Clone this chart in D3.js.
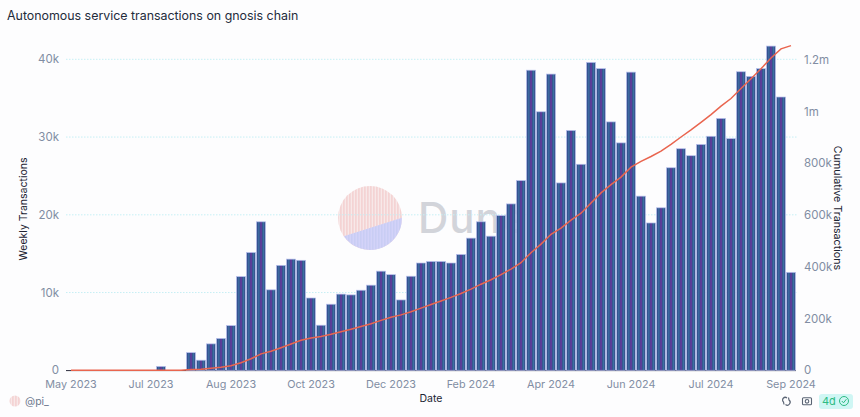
<!DOCTYPE html>
<html>
<head>
<meta charset="utf-8">
<script src="https://cdn.jsdelivr.net/npm/d3@7"></script>
<style>
html,body{margin:0;padding:0;background:#fdfdfe;}
svg{display:block;}
text{font-family:"Inter","Noto Sans",sans-serif;}
</style>
</head>
<body>
<svg id="chart" width="860" height="417"></svg>
<script>
// Weekly transaction counts, one entry per week starting 2023-05-08 (thousands)
const weeklyK = [0,0,0,0,0,0,0,0,0,0.5,0,0,2.27,1.3,3.4,4.1,5.75,12.05,15.15,19.1,10.35,13.5,14.3,14.15,9.3,5.8,8.5,9.8,9.7,10.3,10.95,12.75,12.3,9.05,12.1,13.8,14.0,14.0,13.8,14.9,17.0,19.1,17.25,19.9,21.4,24.4,38.6,33.25,38.1,24.1,30.85,26.5,39.6,38.8,31.95,29.25,38.35,22.4,18.95,20.9,26.05,28.5,27.6,29.05,30.1,32.4,29.8,38.4,37.8,38.8,41.7,35.15,12.6];
// Running total at the end of each week (thousands)
const cumulativeK = [0,0,0,0,0,0,0,0,0,0.5,0.5,0.5,2.8,4.1,7.5,11.6,17.3,29.4,44.5,63.6,74,87.5,101.8,115.9,125.2,131,139.5,149.3,159,169.3,180.3,193,205.3,214.4,226.5,240.3,254.3,268.3,282,297,314,333,350.3,370.2,391.6,416,454.6,487.9,526,550,581,607.5,647,686,718,747,785.4,807.8,826.8,847.7,873.7,902.2,929.8,958.9,989,1021.4,1051.2,1089.6,1127.4,1166.2,1207.9,1243,1255.6];
const firstWeek = "2023-05-08";
const weeklyTicks = [0,10,20,30,40];
const cumulativeTicks = [0,200,400,600,800,1000,1200];
const dateLabels = ["May 2023","Jul 2023","Aug 2023","Oct 2023","Dec 2023","Feb 2024","Apr 2024","Jun 2024","Jul 2024","Sep 2024"];
const titleText = "Autonomous service transactions on gnosis chain";

const svg = d3.select("#chart");
const left = 66, right = 796, base = 370.3;

const start = new Date(firstWeek+"T00:00:00");
const weeks = d3.timeMonday.range(start, d3.timeDay.offset(start, 7*weeklyK.length));
const x = d3.scaleBand().domain(weeks.map(d=>+d)).range([left,right]).paddingInner(0.1).paddingOuter(0.05);
const yL = d3.scaleLinear().domain([0,40]).range([base,59.3]);
const yR = d3.scaleLinear().domain([0,1200]).range([base,60]);
const kFmt = v => v===0 ? "0" : v+"k";
const mFmt = v => v===0 ? "0" : v>=1000 ? (v/1000)+"m" : v+"k";

// Stripe fills: the bar pattern repeats once per weekly band so each bar carries the same stripes
const defs = svg.append("defs");
function stripes(id, colors, originX){
  const p = defs.append("pattern").attr("id",id).attr("patternUnits","userSpaceOnUse")
    .attr("x",originX).attr("y",0).attr("width",colors.length).attr("height",4);
  colors.forEach((c,i)=>p.append("rect").attr("x",i).attr("y",0).attr("width",1).attr("height",4).attr("fill",c));
}
stripes("barFill",["#3a4f96","#34528f","#3c6a9f","#3a5c98","#5a3c98","#5c3f9a","#36588f","#3c6ea3","#38568f","#3a4f96"],66);
stripes("pinkFill",["#f5d3d3","#f3d9da","#f8e8e8"],0);
stripes("lavFill",["#cdcff7","#d3d3f8","#c9cdf3"],0);

// Logo and wordmark sit behind the grid and the bars
const logo = svg.append("g").attr("transform","translate(370,218)");
logo.append("circle").attr("r",32).attr("fill","url(#pinkFill)");
const chord = d3.path();
chord.arc(0,0,32,-0.01,2.53);
chord.closePath();
logo.append("path").attr("d",chord.toString()).attr("fill","url(#lavFill)");
svg.append("text").attr("x",418).attr("y",233).attr("font-size",42).attr("font-weight",500)
  .attr("fill","#d2d4da").attr("letter-spacing",1).text("Dune");

// Grid lines
svg.append("g").selectAll("line").data(weeklyTicks.slice(1)).join("line")
  .attr("x1",left).attr("x2",right+1.5).attr("y1",d=>yL(d)).attr("y2",d=>yL(d))
  .attr("stroke","#c6eff5").attr("stroke-width",1).attr("stroke-dasharray","1.5 1.5");
svg.append("line").attr("x1",left).attr("x2",right).attr("y1",base+0.3).attr("y2",base+0.3).attr("stroke","#2c2c3c").attr("stroke-width",1);

// Bars
svg.append("g").selectAll("rect").data(weeklyK.map((v,i)=>({v,w:weeks[i]})).filter(d=>d.v>0)).join("rect")
  .attr("x",d=>x(+d.w)).attr("width",x.bandwidth())
  .attr("y",d=>yL(d.v)).attr("height",d=>base-yL(d.v))
  .attr("fill","url(#barFill)").attr("stroke","#b9c0ee").attr("stroke-width",0.7);

// Cumulative line
const line = d3.line().x((d,i)=>x(+weeks[i])+x.bandwidth()/2).y(d=>yR(d));
svg.append("path").datum(cumulativeK).attr("d",line).attr("fill","none")
  .attr("stroke","#e9654f").attr("stroke-width",1.5);

// Axes
const tickColor = "#818da3";
svg.append("g").selectAll("text").data(weeklyTicks).join("text")
  .attr("x",59).attr("y",d=>yL(d)).attr("dy","0.35em").attr("text-anchor","end")
  .attr("fill",tickColor).attr("font-size",11.5).text(kFmt);
svg.append("g").selectAll("text").data(cumulativeTicks).join("text")
  .attr("x",804).attr("y",d=>yR(d)).attr("dy","0.35em")
  .attr("fill",tickColor).attr("font-size",11.5).text(mFmt);
svg.append("g").selectAll("text").data(dateLabels).join("text")
  .attr("x",(d,i)=>x(+weeks[i*8])+x.bandwidth()/2).attr("y",384).attr("dy","0.35em").attr("text-anchor","middle")
  .attr("fill",tickColor).attr("font-size",10.8).text(d=>d);

// Axis titles
svg.append("text").attr("x",431).attr("y",402).attr("text-anchor","middle").attr("font-size",10.5).attr("fill","#1c2433").text("Date");
svg.append("text").attr("transform","translate(27,209) rotate(-90)").attr("text-anchor","middle").attr("font-size",10.5).attr("fill","#1c2433").text("Weekly Transactions");
svg.append("text").attr("transform","translate(834,208) rotate(90)").attr("text-anchor","middle").attr("font-size",10.7).attr("fill","#1c2433").text("Cumulative Transactions");

// Title
svg.append("text").attr("x",7).attr("y",20).attr("font-size",12.4).attr("font-weight",400).attr("fill","#232b3b").text(titleText);

// Footer: author tag, icons, age badge
svg.append("circle").attr("cx",15).attr("cy",401).attr("r",5.5).attr("fill","url(#pinkFill)");
svg.append("text").attr("x",25).attr("y",405).attr("font-size",10.5).attr("fill","#6f7a90").text("@pi_");

svg.append("rect").attr("x",819).attr("y",394).attr("width",34).attr("height",15).attr("rx",3).attr("fill","#cff6f4");
svg.append("text").attr("x",822).attr("y",405).attr("font-size",11).attr("fill","#2dbb83").text("4d");
const check = svg.append("g").attr("transform","translate(844,401)").attr("fill","none").attr("stroke","#2dbb83").attr("stroke-width",1);
check.append("circle").attr("r",4.5);
check.append("path").attr("d","M-2.2 0 L-0.5 1.8 L2.4 -1.8");
const cam = svg.append("g").attr("transform","translate(807,401)").attr("fill","none").attr("stroke","#5a6474").attr("stroke-width",1.1);
cam.append("rect").attr("x",-4.5).attr("y",-3.2).attr("width",9).attr("height",7).attr("rx",1);
cam.append("circle").attr("r",1.8).attr("cy",0.3);
const link = svg.append("g").attr("transform","translate(786,401)").attr("fill","none").attr("stroke","#5a6474").attr("stroke-width",1.2);
link.append("path").attr("d","M-2 3.5 L-2.5 1 A2.6 2.6 0 0 1 1 -3");
link.append("path").attr("d","M2.5 -3.5 L3 -1 A2.6 2.6 0 0 1 -0.5 3.5");
</script>
</body>
</html>
